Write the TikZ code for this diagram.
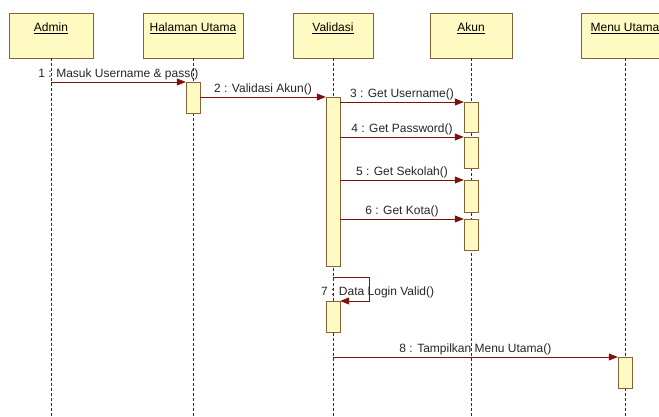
\documentclass[tikz,border=0pt]{standalone}
\usepackage{fontspec}
\setmainfont{Liberation Sans}
\usetikzlibrary{arrows.meta,positioning,calc}
\definecolor{boxfill}{RGB}{255,249,194}
\definecolor{boxline}{RGB}{134,98,52}
\definecolor{msgred}{RGB}{128,16,8}
\definecolor{lifegray}{RGB}{45,45,45}

\begin{document}
\begin{tikzpicture}[
    x=1pt, y=-1pt,
    >={Triangle[length=9pt,width=7pt]},
    every node/.style={font=\fontsize{12}{14}\selectfont},
    headbox/.style={rectangle, draw=boxline, fill=boxfill, anchor=north, minimum height=45pt, text height=14pt, text depth=23pt, inner ysep=4pt, inner xsep=2pt},
    actbox/.style={rectangle, draw=boxline, fill=boxfill, anchor=north, minimum width=14pt, inner sep=0pt},
    lifeline/.style={draw=lifegray, line width=0.7pt, dash pattern=on 3pt off 2pt},
    msgline/.style={->, draw=msgred, line width=0.8pt},
    msglabel/.style={above, inner sep=1.5pt, text=black!85}
]
    \useasboundingbox (0,0) rectangle (659,417);
    \fill[white] (0,0) rectangle (659,417);

    % objects
    \node (admin) [headbox, minimum width=84pt] at (51,13) {\underline{Admin}};
    \node (halaman) [headbox, minimum width=100pt] at (193,13) {\underline{Halaman Utama}};
    \node (validasi) [headbox, minimum width=80pt] at (333,13) {\underline{Validasi}};
    \node (akun) [headbox, minimum width=82pt] at (471,13) {\underline{Akun}};
    \node (menu) [headbox, minimum width=88pt] at (625,13) {\underline{Menu Utama}};

    % lifelines
    \draw[lifeline] (admin.south) -- (admin.south |- 0,417);
    \draw[lifeline] (halaman.south) -- (halaman.south |- 0,417);
    \draw[lifeline] (validasi.south) -- (validasi.south |- 0,417);
    \draw[lifeline] (akun.south) -- (akun.south |- 0,417);
    \draw[lifeline] (menu.south) -- (menu.south |- 0,417);

    % activations
    \node (hal1) [actbox, minimum height=31pt] at (193,82) {};
    \node (val1) [actbox, minimum height=169pt] at (333,97) {};
    \node (akun1) [actbox, minimum height=30pt] at (471,102) {};
    \node (akun2) [actbox, minimum height=31pt] at (471,137) {};
    \node (akun3) [actbox, minimum height=32pt] at (471,180) {};
    \node (akun4) [actbox, minimum height=31pt] at (471,219) {};
    \node (val2) [actbox, minimum height=31pt] at (333,301) {};
    \node (menu1) [actbox, minimum height=31pt] at (625,357) {};

    % messages
    \draw[msgline] (admin.south |- hal1.north) -- node[msglabel] (m1) {1 : Masuk Username \& pass()} (hal1.north west);
    \draw[msgline] (hal1.east |- val1.north) -- node[msglabel] (m2) {2 : Validasi Akun()} (val1.north west);
    \draw[msgline] (val1.east |- akun1.north) -- node[msglabel] (m3) {3 : Get Username()} (akun1.north west);
    \draw[msgline] (val1.east |- akun2.north) -- node[msglabel] (m4) {4 : Get Password()} (akun2.north west);
    \draw[msgline] (val1.east |- akun3.north) -- node[msglabel] (m5) {5 : Get Sekolah()} (akun3.north west);
    \draw[msgline] (val1.east |- akun4.north) -- node[msglabel] (m6) {6 : Get Kota()} (akun4.north west);
    \draw[msgline] ($(val1.south)+(0,11)$) -| ($(val2.north east)+(29,0)$) -- (val2.north east);
    \node (m7) [anchor=base west, inner sep=0pt, text=black!85] at (321,295) {7 : Data Login Valid()};
    \draw[msgline] (validasi.south |- menu1.north) -- node[msglabel] (m8) {8 : Tampilkan Menu Utama()} (menu1.north west);

\end{tikzpicture}
\end{document}
